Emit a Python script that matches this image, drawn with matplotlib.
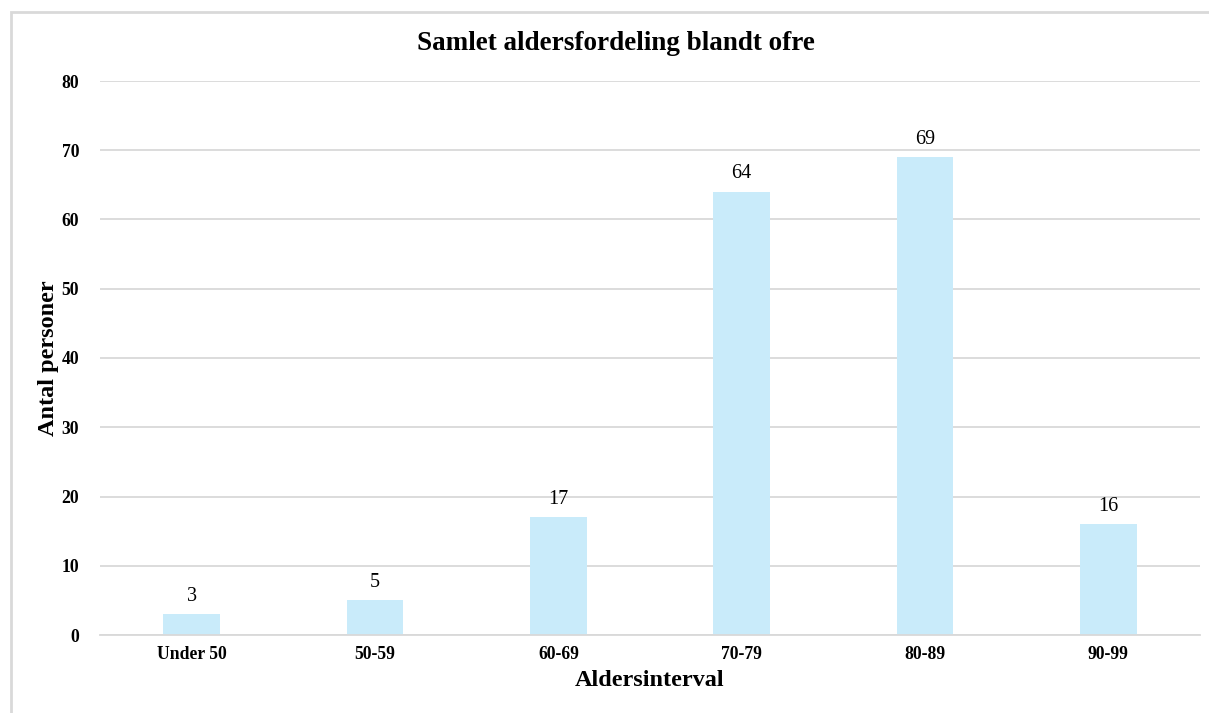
import matplotlib
matplotlib.use("Agg")
import matplotlib.pyplot as plt
from matplotlib.patches import Rectangle

categories = ["Under 50", "50-59", "60-69", "70-79", "80-89", "90-99"]
counts = [3, 5, 17, 64, 69, 16]
yticks = [0, 10, 20, 30, 40, 50, 60, 70, 80]

plt.rcParams["font.family"] = ["Liberation Serif", "DejaVu Serif"]

W, H = 1209, 713
fig = plt.figure(figsize=(W / 100, H / 100), dpi=100)
fig.patch.set_facecolor("white")

# light frame around the chart area
fig.patches.append(Rectangle((11 / W, -0.05), 1.1, 1 - 12 / H + 0.05,
                             transform=fig.transFigure, fill=False,
                             edgecolor="#d9d9d9", linewidth=2.0, zorder=0))

ax = fig.add_axes([100 / W, (H - 635) / H, 1100 / W, (635 - 81) / H])
x = range(len(categories))
bars = ax.bar(x, counts, width=0.31, color="#c9ebfa", zorder=2)

ax.set_xlim(-0.5, len(categories) - 0.5)
ax.set_ylim(0, 80)
ax.set_yticks(yticks)
ax.set_xticks(list(x))
ax.set_xticklabels(categories, fontsize=12.7, fontweight="bold")
ax.set_yticklabels([str(t) for t in yticks], fontsize=12.7, fontweight="bold")
ax.tick_params(axis="both", length=0)
ax.tick_params(axis="y", pad=15)
ax.tick_params(axis="x", pad=8)

ax.yaxis.grid(True, color="#d9d9d9", linewidth=1.3, zorder=0)
ax.set_axisbelow(True)
for s in ["top", "right", "left"]:
    ax.spines[s].set_visible(False)
ax.spines["bottom"].set_color("#d9d9d9")
ax.spines["bottom"].set_linewidth(1.3)

for b, v in zip(bars, counts):
    ax.annotate(str(v), (b.get_x() + b.get_width() / 2, v),
                xytext=(0, 6), textcoords="offset points",
                ha="center", va="bottom", fontsize=14.5)

ax.set_xlabel("Aldersinterval", fontsize=17.5, fontweight="bold", labelpad=5)
ax.set_ylabel("Antal personer", fontsize=17.5, fontweight="bold", labelpad=2)
fig.text(616 / W, 1 - 43 / H, "Samlet aldersfordeling blandt ofre",
         ha="center", va="center", fontsize=19.5, fontweight="bold")

fig.savefig("out.png", dpi=100)
